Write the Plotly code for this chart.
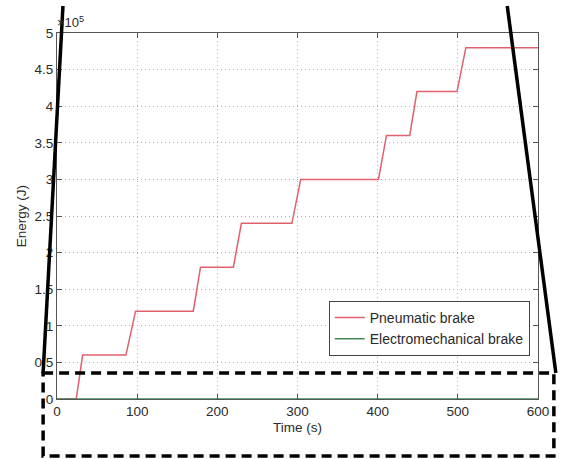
import plotly.graph_objects as go

# Cumulative braking energy over the run (breakpoints of the staircase)
time_s = [0, 24, 32, 86, 98, 170, 179, 220, 230, 293, 304, 401, 411, 440, 449, 499, 510, 600]
pneumatic_J = [0, 0, 0.6e5, 0.6e5, 1.2e5, 1.2e5, 1.8e5, 1.8e5, 2.4e5, 2.4e5,
               3.0e5, 3.0e5, 3.6e5, 3.6e5, 4.2e5, 4.2e5, 4.8e5, 4.8e5]
electromech_t = [0, 600]
electromech_J = [0, 0]

y_tick_vals = [0, 0.5e5, 1e5, 1.5e5, 2e5, 2.5e5, 3e5, 3.5e5, 4e5, 4.5e5, 5e5]
y_tick_text = ["0", "0.5", "1", "1.5", "2", "2.5", "3", "3.5", "4", "4.5", "5"]
x_tick_vals = [0, 100, 200, 300, 400, 500, 600]

W, H = 561, 459
ML, MR, MT, MB = 57, 19, 33, 60
PW, PH = W - ML - MR, H - MT - MB


def px(x):
    return (x - ML) / PW


def py(y):
    return (H - MB - y) / PH


FONT = "Liberation Sans, Arial, sans-serif"
TXT = "#2a2a2a"
AX = "#555555"

fig = go.Figure()
fig.add_trace(go.Scatter(x=time_s, y=pneumatic_J, mode="lines", name="Pneumatic brake",
                         line=dict(color="#e0606e", width=1.5)))
fig.add_trace(go.Scatter(x=electromech_t, y=electromech_J, mode="lines",
                         name="Electromechanical brake",
                         line=dict(color="#3d8a55", width=1.6)))

axis_common = dict(showline=True, linecolor=AX, linewidth=1, mirror="ticks",
                   ticks="inside", ticklen=5, tickcolor=AX,
                   showgrid=True, gridcolor="#b0b0b0", gridwidth=1, griddash="1px,3px",
                   zeroline=False, tickfont=dict(family=FONT, size=13.5, color=TXT))

fig.update_xaxes(range=[0, 600], tickvals=x_tick_vals, **axis_common)
fig.update_yaxes(range=[0, 5e5], tickvals=y_tick_vals, ticktext=y_tick_text, **axis_common)

# Callout: two slanted lines and a dashed box around the bottom strip
callout = [
    ((63, 6), (43, 373)),
    ((511, 6), (560, 373)),
]
shapes = []
for (x0, y0), (x1, y1) in callout:
    shapes.append(dict(type="line", xref="paper", yref="paper",
                       x0=px(x0), y0=py(y0), x1=px(x1), y1=py(y1),
                       line=dict(color="black", width=3.5)))
shapes.append(dict(type="rect", xref="paper", yref="paper",
                   x0=px(43), y0=py(373), x1=px(558), y1=py(456),
                   line=dict(color="black", width=3.5, dash="10px,6px")))

annotations = [
    dict(text="×10<sup>5</sup>", x=px(55), y=py(22), xref="paper", yref="paper",
         xanchor="left", yanchor="middle", showarrow=False,
         font=dict(family=FONT, size=13, color=TXT)),
    dict(text="Time (s)", x=0.5, y=py(427), xref="paper", yref="paper",
         xanchor="center", yanchor="middle", showarrow=False,
         font=dict(family=FONT, size=13.5, color=TXT)),
    dict(text="Energy (J)", x=px(21), y=0.5, xref="paper", yref="paper",
         xanchor="center", yanchor="middle", showarrow=False, textangle=-90,
         font=dict(family=FONT, size=13.5, color=TXT)),
]

fig.update_layout(
    width=W, height=H,
    margin=dict(l=ML, r=MR, t=MT, b=MB),
    paper_bgcolor="white", plot_bgcolor="white",
    showlegend=True,
    legend=dict(x=px(331), y=py(301), xanchor="left", yanchor="top",
                bgcolor="white", bordercolor="#444444", borderwidth=1,
                font=dict(family=FONT, size=14, color=TXT),
                tracegroupgap=0, itemwidth=30),
    shapes=shapes,
    annotations=annotations,
)

fig.write_html("out.html")
